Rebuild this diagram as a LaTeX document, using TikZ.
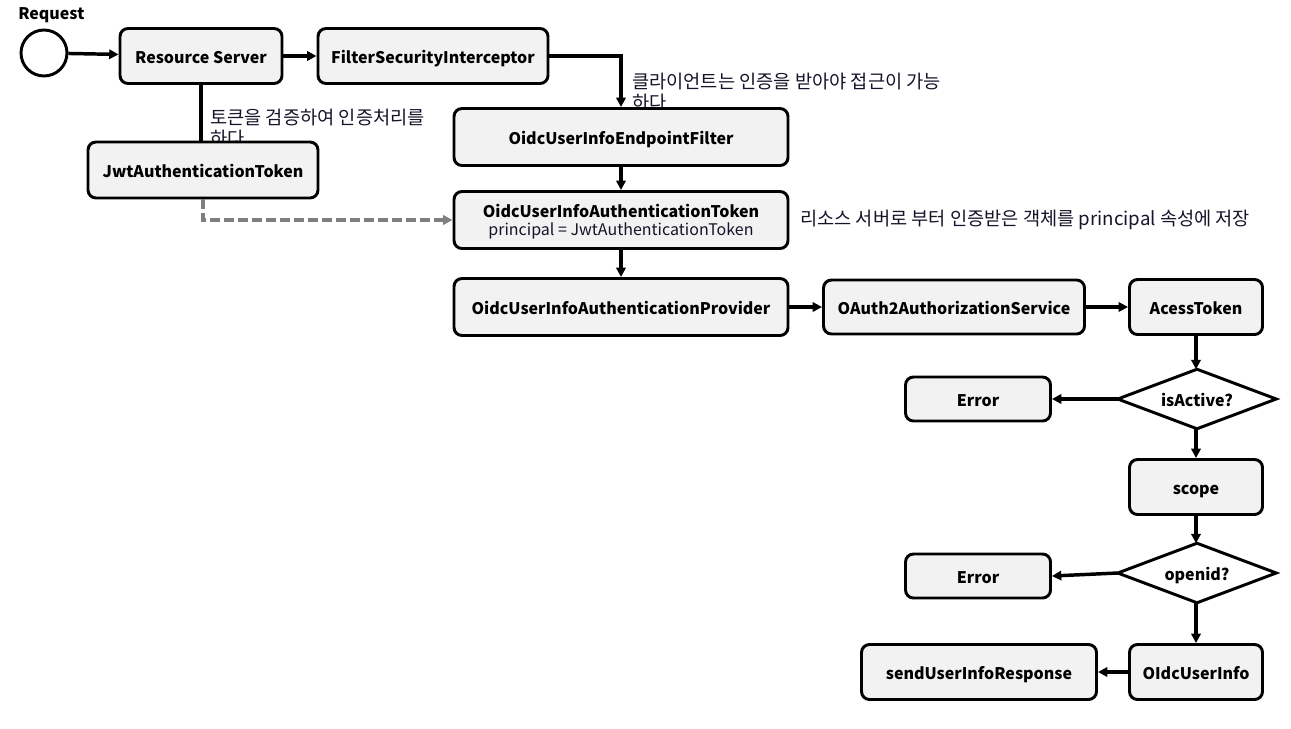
\documentclass[tikz,border=0pt]{standalone}
\usepackage{fontspec}
\setmainfont{Noto Sans CJK KR}
\usetikzlibrary{arrows.meta}
\definecolor{boxfill}{HTML}{F2F2F2}
\definecolor{dashgray}{HTML}{7F7F7F}
\definecolor{notecol}{HTML}{14142A}
\begin{document}
\begin{tikzpicture}[x=0.75pt,y=-0.75pt,
 boxtext/.style={font=\bfseries\fontsize{12}{15}\selectfont},
 boxbase/.style={boxtext, draw=black, line width=2.2pt, fill=boxfill, rounded corners=6pt, inner sep=0pt, align=center},
 box/.style={boxbase, text height=10.8pt, text depth=0pt},
 decarea/.style={boxtext, inner sep=0pt, minimum width=118.5pt, minimum height=44.25pt},
 decline/.style={draw=black, line width=2.2pt, fill=white, line join=miter},
 arr/.style={line width=2.6pt, -{Triangle[length=7pt,width=7pt]}},
 plain/.style={line width=2.4pt},
 dasharr/.style={draw=dashgray, line width=2.4pt, dash pattern=on 7pt off 3.5pt, -{Triangle[length=7pt,width=7pt]}},
 note/.style={font=\fontsize{14}{16}\selectfont, inner sep=0pt, text=notecol, anchor=base west},
]
\useasboundingbox (0,0) rectangle (1291,728);

% notes (drawn first so that boxes cover them)
\node[note] (n1a) at (210,124) {토큰을 검증하여 인증처리를};
\node[note] (n1b) at (210,145) {하다};
\node[note] (n2a) at (632,88) {클라이언트는 인증을 받아야 접근이 가능};
\node[note] (n2b) at (632,109) {하다};
\node[note] (n3) at (800,225) {리소스 서버로 부터 인증받은 객체를 principal 속성에 저장};

% start
\node[boxtext, anchor=west, inner sep=0pt] (req) at (18,15) {Request};
\node[circle, draw=black, line width=2.2pt, fill=white, minimum size=34.5pt, inner sep=0pt] (start) at (44,53) {};

% boxes
\node[box, minimum width=121.5pt, minimum height=41.25pt] (rs) at (201,56) {Resource Server};
\node[box, minimum width=172.5pt, minimum height=41.25pt] (fsi) at (433,56) {FilterSecurityInterceptor};
\node[box, minimum width=172.5pt, minimum height=42pt] (jwt) at (203,170) {JwtAuthenticationToken};
\node[box, minimum width=250.5pt, minimum height=42.75pt] (ouief) at (621,137) {OidcUserInfoEndpointFilter};
\node[boxbase, minimum width=250.5pt, minimum height=42.75pt] (ouiat) at (621,220) {\rule{0pt}{12.5pt}OidcUserInfoAuthenticationToken\\[-1pt]{\mdseries\color{notecol}principal = JwtAuthenticationToken}};
\node[box, minimum width=250.5pt, minimum height=42.75pt] (ouiap) at (621,307) {OidcUserInfoAuthenticationProvider};
\node[box, minimum width=195.75pt, minimum height=40.5pt] (oas) at (954,307) {OAuth2AuthorizationService};
\node[box, minimum width=99.75pt, minimum height=41.25pt] (at) at (1196,307) {AcessToken};
\node[box, minimum width=108.75pt, minimum height=33pt] (err1) at (978,399) {Error};
\node[box, minimum width=99.75pt, minimum height=41.25pt] (scope) at (1196,487) {scope};
\node[box, minimum width=108.75pt, minimum height=33pt] (err2) at (978,576) {Error};
\node[box, minimum width=99.75pt, minimum height=41.25pt] (oiui) at (1196,672) {OIdcUserInfo};
\node[box, minimum width=176.25pt, minimum height=41.25pt] (send) at (979,672) {sendUserInfoResponse};

% decisions
\node[decarea] (act) at (1197,399) {};
\draw[decline] (act.west) -- (act.north) -- (act.east) -- (act.south) -- cycle;
\node[boxtext, text height=10.8pt, text depth=0pt] (acttxt) at (act.center) {isActive?};
\node[decarea] (oid) at (1197,573) {};
\draw[decline] (oid.west) -- (oid.north) -- (oid.east) -- (oid.south) -- cycle;
\node[boxtext, text height=10.8pt, text depth=0pt] (oidtxt) at (oid.center) {openid?};

% connectors
\draw[arr] (start) -- (rs);
\draw[arr] (rs) -- (fsi);
\draw[arr] (fsi.east) -| (ouief.north);
\draw[plain] (rs.south) -- (rs.south |- jwt.north);
\draw[dasharr] (jwt.south) |- (ouiat.west);
\draw[arr] (ouief) -- (ouiat);
\draw[arr] (ouiat) -- (ouiap);
\draw[arr] (ouiap) -- (oas);
\draw[arr] (oas) -- (at);
\draw[arr] (at.south) -- (at.south |- act.north);
\draw[arr] (act.west) -- (err1.east);
\draw[arr] (act.south -| scope.north) -- (scope.north);
\draw[arr] (scope.south) -- (scope.south |- oid.north);
\draw[arr] (oid.west) -- (err2.east);
\draw[arr] (oid.south -| oiui.north) -- (oiui.north);
\draw[arr] (oiui) -- (send);
\end{tikzpicture}
\end{document}
